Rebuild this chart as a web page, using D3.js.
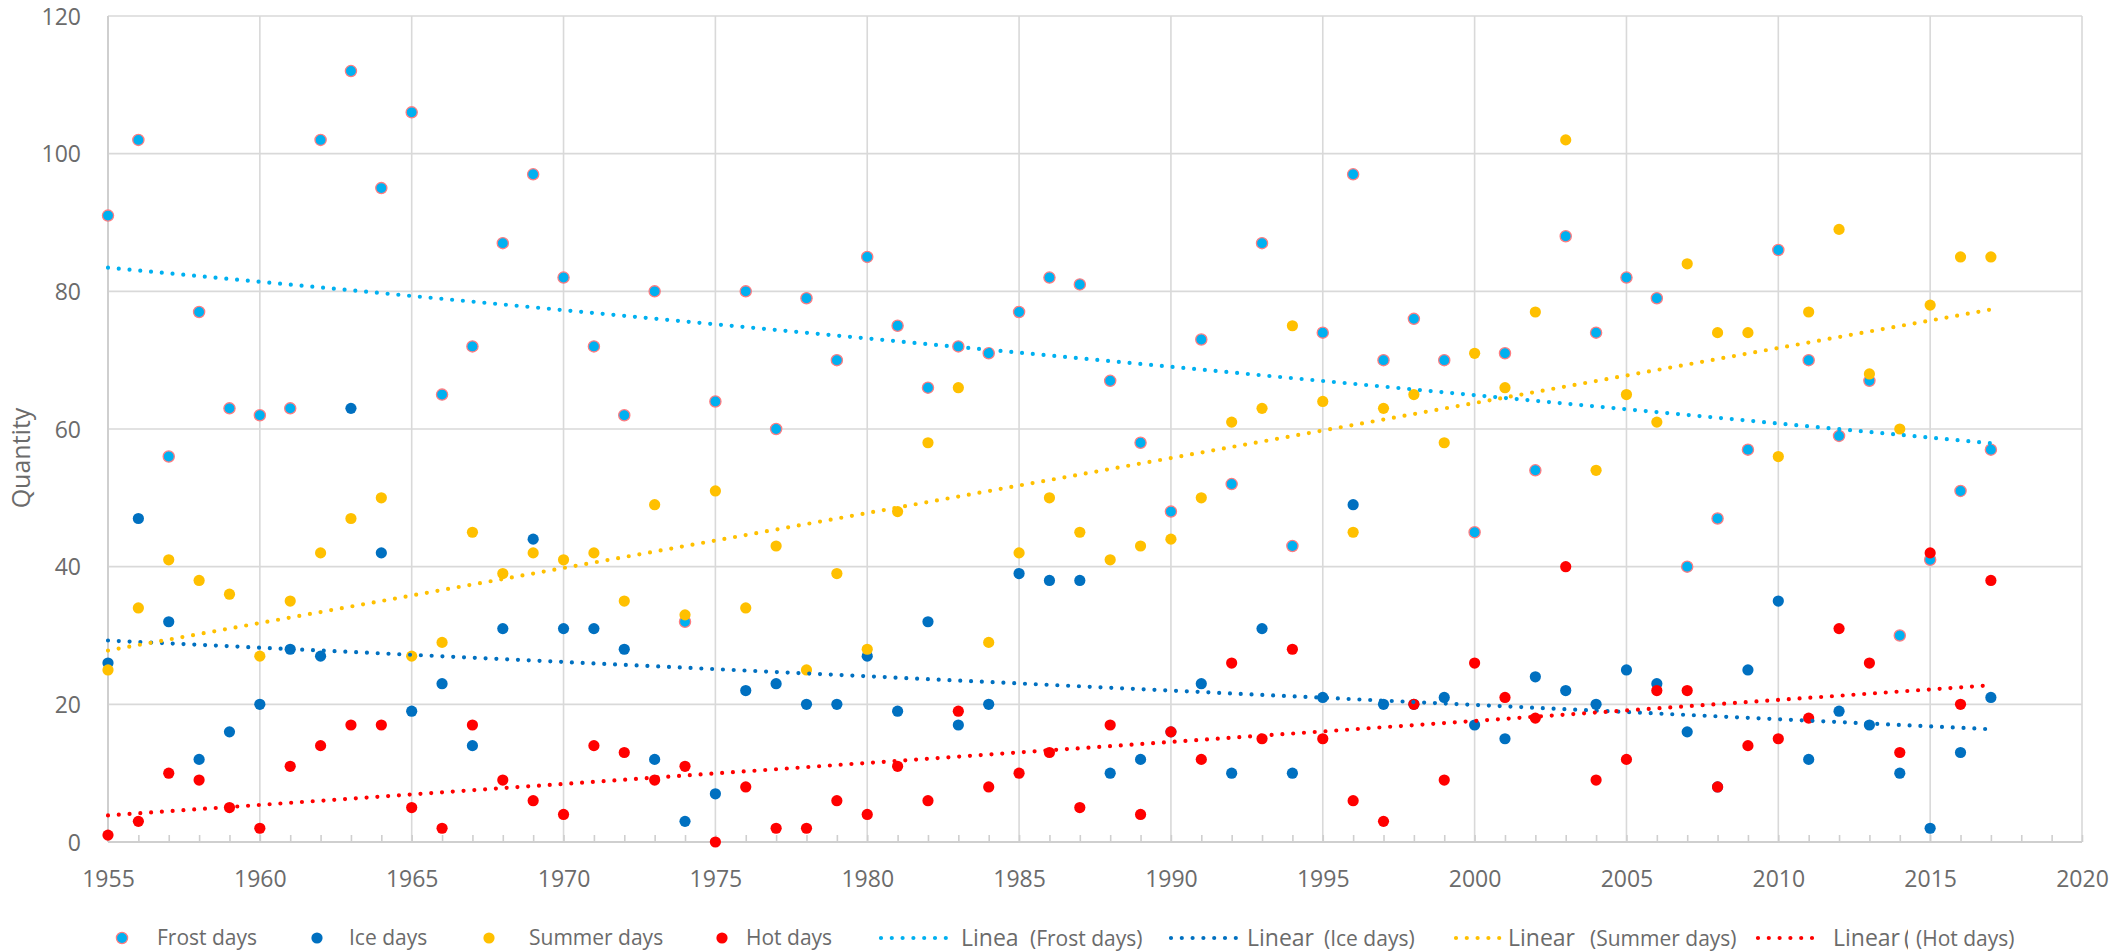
<!DOCTYPE html>
<html><head><meta charset="utf-8">
<script src="https://cdn.jsdelivr.net/npm/d3@7"></script>
<style>
body{margin:0;background:#fff}
text{font-family:"Open Sans",sans-serif;fill:#6b6b6b}
</style>
</head><body>
<svg id="c" width="2126" height="952"></svg>
<script>
const years = [1955,1956,1957,1958,1959,1960,1961,1962,1963,1964,1965,1966,1967,1968,1969,
1970,1971,1972,1973,1974,1975,1976,1977,1978,1979,1980,1981,1982,1983,1984,1985,1986,1987,
1988,1989,1990,1991,1992,1993,1994,1995,1996,1997,1998,1999,2000,2001,2002,2003,2004,
2005,2006,2007,2008,2009,2010,2011,2012,2013,2014,2015,2016,2017];
const frostDays = [91,102,56,77,63,62,63,102,112,95,106,65,72,87,97,
82,72,62,80,32,64,80,60,79,70,85,75,66,72,71,77,82,81,
67,58,48,73,52,87,43,74,97,70,76,70,45,71,54,88,74,
82,79,40,47,57,86,70,59,67,30,41,51,57];
const iceDays = [26,47,32,12,16,20,28,27,63,42,19,23,14,31,44,
31,31,28,12,3,7,22,23,20,20,27,19,32,17,20,39,38,38,
10,12,16,23,10,31,10,21,49,20,20,21,17,15,24,22,20,
25,23,16,8,25,35,12,19,17,10,2,13,21];
const summerDays = [25,34,41,38,36,27,35,42,47,50,27,29,45,39,42,
41,42,35,49,33,51,34,43,25,39,28,48,58,66,29,42,50,45,
41,43,44,50,61,63,75,64,45,63,65,58,71,66,77,102,54,
65,61,84,74,74,56,77,89,68,60,78,85,85];
const hotDays = [1,3,10,9,5,2,11,14,17,17,5,2,17,9,6,
4,14,13,9,11,0,8,2,2,6,4,11,6,19,8,10,13,5,
17,4,16,12,26,15,28,15,6,3,20,9,26,21,18,40,9,
12,22,22,8,14,15,18,31,26,13,42,20,38];
const xTickLabels = [1955,1960,1965,1970,1975,1980,1985,1990,1995,2000,2005,2010,2015,2020];
const yTickLabels = [0,20,40,60,80,100,120];
const seriesNames = ["Frost days","Ice days","Summer days","Hot days"];

const colors = {"Frost days":"#00B0F0","Ice days":"#0070C0","Summer days":"#FFC000","Hot days":"#FF0000"};
const seriesValues = {"Frost days":frostDays,"Ice days":iceDays,"Summer days":summerDays,"Hot days":hotDays};

const svg = d3.select("#c");
const x = d3.scaleLinear().domain([1955,2020]).range([108,2082]);
const y = d3.scaleLinear().domain([0,120]).range([842,16]);
const grid = "#d9d9d9";

// horizontal gridlines
svg.append("g").selectAll("line").data(yTickLabels.filter(v=>v>0)).join("line")
  .attr("x1",x(1955)).attr("x2",x(2020)).attr("y1",d=>y(d)).attr("y2",d=>y(d))
  .attr("stroke",grid).attr("stroke-width",1.6);
// vertical gridlines
svg.append("g").selectAll("line").data(xTickLabels.filter(v=>v>1955)).join("line")
  .attr("x1",d=>x(d)).attr("x2",d=>x(d)).attr("y1",y(0)).attr("y2",y(120))
  .attr("stroke",grid).attr("stroke-width",1.6);
// y axis line
svg.append("line").attr("x1",x(1955)).attr("x2",x(1955)).attr("y1",y(0)).attr("y2",y(120))
  .attr("stroke","#cfcfcf").attr("stroke-width",2);

// x axis: minor ticks (inside) every year
const xMinor = d3.axisBottom(x).tickValues(years.concat([2018,2019,2020])).tickSizeInner(-7).tickSizeOuter(0).tickFormat("");
const gm = svg.append("g").attr("transform",`translate(0,${y(0)})`).call(xMinor);
gm.select(".domain").remove();
gm.selectAll(".tick line").attr("stroke","#cfcfcf").attr("stroke-width",1.6);
svg.append("line").attr("x1",x(1955)).attr("x2",x(2020)).attr("y1",y(0)).attr("y2",y(0))
  .attr("stroke","#cfcfcf").attr("stroke-width",2.2);

// x labels
const xAxis = d3.axisBottom(x).tickValues(xTickLabels).tickSize(0).tickFormat(d3.format("d"));
const gx = svg.append("g").attr("transform",`translate(0,${y(0)})`).call(xAxis);
gx.select(".domain").remove();
gx.selectAll("text").attr("y",37).attr("dy","0.35em").style("font-size","23px")
  .style("font-family","'Open Sans',sans-serif").attr("fill","#6b6b6b");

// y labels
const yAxis = d3.axisLeft(y).tickValues(yTickLabels).tickSize(0);
const gy = svg.append("g").attr("transform",`translate(${x(1955)},0)`).call(yAxis);
gy.select(".domain").remove();
gy.selectAll("text").attr("x",-27).attr("dy","0.35em").style("font-size","23px")
  .style("font-family","'Open Sans',sans-serif").attr("fill","#6b6b6b");

// y title
svg.append("text").attr("transform","translate(21,458) rotate(-90)")
  .attr("text-anchor","middle").attr("dy","0.35em").style("font-size","25px").text("Quantity");

// markers
seriesNames.forEach(name=>{
  const vals = seriesValues[name];
  svg.append("g").selectAll("circle").data(years).join("circle")
    .attr("cx",(d)=>x(d)).attr("cy",(d,i)=>y(vals[i])).attr("r",5.6)
    .attr("fill",colors[name])
    .attr("stroke",name==="Frost days"?"#ff7c80":"none")
    .attr("stroke-width",name==="Frost days"?1.3:0);
});

// linear trendlines (least squares on the series)
function regress(xs, ys){
  const mx=d3.mean(xs), my=d3.mean(ys);
  let num=0, den=0;
  xs.forEach((v,i)=>{num+=(v-mx)*(ys[i]-my); den+=(v-mx)*(v-mx);});
  const b=num/den; return t=>my+b*(t-mx);
}
const line = d3.line().x(d=>x(d[0])).y(d=>y(d[1]));
seriesNames.forEach(name=>{
  const f = regress(years, seriesValues[name]);
  const x0=years[0], x1=years[years.length-1];
  svg.append("path").datum([[x0,f(x0)],[x1,f(x1)]]).attr("d",line)
    .attr("fill","none").attr("stroke",colors[name]).attr("stroke-width",4.2)
    .attr("stroke-dasharray","0 10.8").attr("stroke-linecap","round");
});

// legend
const ly = 938;
const markerLegend = [
  {name:"Frost days",cx:122,tx:157},
  {name:"Ice days",cx:317,tx:349},
  {name:"Summer days",cx:489,tx:529},
  {name:"Hot days",cx:722,tx:746}
];
markerLegend.forEach(m=>{
  svg.append("circle").attr("cx",m.cx).attr("cy",ly).attr("r",5.6).attr("fill",colors[m.name])
    .attr("stroke",m.name==="Frost days"?"#ff7c80":"none").attr("stroke-width",1.3);
  svg.append("text").attr("x",m.tx).attr("y",ly).attr("dy","0.35em").style("font-size","21px").text(m.name);
});
const lineLegend = [
  {name:"Frost days",x1:881,x2:956,lx:961,lab:"Linea",px:1030},
  {name:"Ice days",x1:1171,x2:1243,lx:1247,lab:"Linear",px:1324},
  {name:"Summer days",x1:1456,x2:1504,lx:1508,lab:"Linear",px:1590},
  {name:"Hot days",x1:1758,x2:1819,lx:1833,lab:"Linear",px:1916}
];
lineLegend.forEach(m=>{
  svg.append("line").attr("x1",m.x1).attr("x2",m.x2).attr("y1",ly).attr("y2",ly)
    .attr("stroke",colors[m.name]).attr("stroke-width",4.2)
    .attr("stroke-dasharray","0 10.8").attr("stroke-linecap","round");
  svg.append("text").attr("x",m.lx).attr("y",ly).attr("dy","0.35em").style("font-size","23px").text(m.lab);
  svg.append("text").attr("x",m.px).attr("y",ly+1).attr("dy","0.35em").style("font-size","21px").text("("+m.name+")");
});
// clipped bracket in the last legend entry
svg.append("defs").append("clipPath").attr("id","clipB").append("rect")
  .attr("x",1904).attr("y",ly-20).attr("width",4).attr("height",40);
svg.append("text").attr("x",1904).attr("y",ly).attr("dy","0.35em").attr("clip-path","url(#clipB)")
  .style("font-size","23px").text("(");
</script>
</body></html>
